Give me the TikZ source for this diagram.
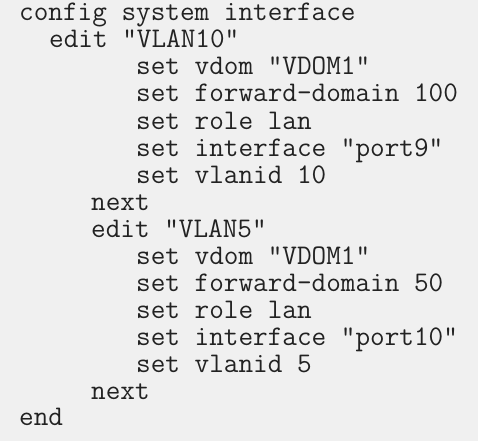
\documentclass[tikz,border=0pt]{standalone}
\usepackage{xcolor}
\definecolor{panelgray}{HTML}{F0F0F0}
\definecolor{codeink}{HTML}{222222}

\begin{document}
\begin{tikzpicture}[x=1pt, y=-1pt,
	code/.style={anchor=base west, inner sep=0pt, text=codeink, font=\ttfamily\fontsize{28.4}{30}\selectfont}]
	\fill[panelgray] (0,0) rectangle (478,441);
	\useasboundingbox (0,0) rectangle (478,441);
	\node (cfg) [code] at (19, 21) {config system interface};
	\node (ed1) [code] at (49, 48) {edit "VLAN10"};
	\node (s11) [code] at (136, 75) {set vdom "VDOM1"};
	\node (s12) [code] at (136, 102) {set forward-domain 100};
	\node (s13) [code] at (136, 129) {set role lan};
	\node (s14) [code] at (136, 156) {set interface "port9"};
	\node (s15) [code] at (136, 183) {set vlanid 10};
	\node (nx1) [code] at (91, 210) {next};
	\node (ed2) [code] at (91, 237) {edit "VLAN5"};
	\node (s21) [code] at (136, 264) {set vdom "VDOM1"};
	\node (s22) [code] at (136, 291) {set forward-domain 50};
	\node (s23) [code] at (136, 318) {set role lan};
	\node (s24) [code] at (136, 345) {set interface "port10"};
	\node (s25) [code] at (136, 372) {set vlanid 5};
	\node (nx2) [code] at (91, 399) {next};
	\node (fin) [code] at (19, 425) {end};
\end{tikzpicture}
\end{document}
